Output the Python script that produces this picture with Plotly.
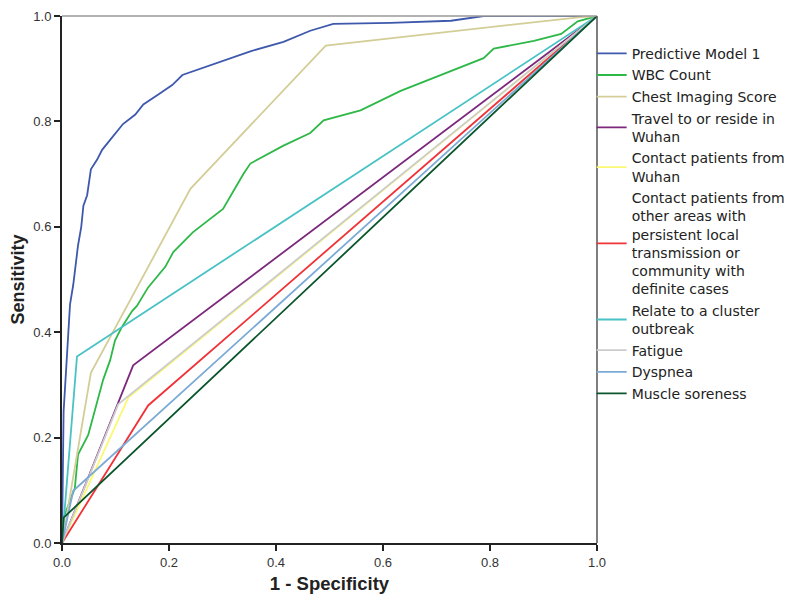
import plotly.graph_objects as go

# ROC curves: (1 - specificity, sensitivity)
model_fpr = [0, 0.001, 0.003, 0.006, 0.009, 0.011, 0.015, 0.021, 0.026, 0.030, 0.036, 0.040,
             0.047, 0.049, 0.054, 0.066, 0.075, 0.090, 0.114, 0.137, 0.152, 0.180, 0.206,
             0.225, 0.262, 0.300, 0.352, 0.414, 0.464, 0.507, 0.614, 0.727, 0.788, 1.0]
model_tpr = [0, 0.10, 0.25, 0.30, 0.36, 0.397, 0.453, 0.49, 0.53, 0.565, 0.60, 0.64,
             0.66, 0.672, 0.709, 0.728, 0.746, 0.765, 0.795, 0.813, 0.832, 0.851, 0.869,
             0.888, 0.901, 0.915, 0.933, 0.951, 0.972, 0.985, 0.987, 0.991, 1.0, 1.0]

wbc_fpr = [0, 0.003, 0.024, 0.030, 0.049, 0.066, 0.077, 0.090, 0.099, 0.112, 0.131, 0.140,
           0.161, 0.193, 0.208, 0.245, 0.277, 0.301, 0.339, 0.352, 0.414, 0.464, 0.489,
           0.558, 0.633, 0.708, 0.788, 0.807, 0.882, 0.933, 0.951, 0.964, 1.0]
wbc_tpr = [0, 0.048, 0.104, 0.168, 0.205, 0.267, 0.31, 0.347, 0.384, 0.41, 0.44, 0.45,
           0.485, 0.524, 0.552, 0.59, 0.616, 0.634, 0.70, 0.72, 0.754, 0.778, 0.802,
           0.821, 0.858, 0.888, 0.92, 0.938, 0.953, 0.966, 0.981, 0.99, 1.0]

chest_fpr = [0, 0.054, 0.240, 0.493, 0.97, 1.0]
chest_tpr = [0, 0.323, 0.672, 0.944, 0.998, 1.0]

travel_fpr = [0, 0.133, 1.0]
travel_tpr = [0, 0.337, 1.0]

contact_wuhan_fpr = [0, 0.124, 1.0]
contact_wuhan_tpr = [0, 0.276, 1.0]

contact_other_fpr = [0, 0.161, 1.0]
contact_other_tpr = [0, 0.261, 1.0]

cluster_fpr = [0, 0.028, 1.0]
cluster_tpr = [0, 0.354, 1.0]

fatigue_fpr = [0, 0.105, 1.0]
fatigue_tpr = [0, 0.263, 1.0]

dyspnea_fpr = [0, 0.021, 1.0]
dyspnea_tpr = [0, 0.099, 1.0]

muscle_fpr = [0, 0.003, 1.0]
muscle_tpr = [0, 0.048, 1.0]

series = [
    ("Predictive Model 1", model_fpr, model_tpr, "#3E58AC"),
    ("WBC Count", wbc_fpr, wbc_tpr, "#2EB848"),
    ("Chest Imaging Score", chest_fpr, chest_tpr, "#D3CE97"),
    ("Travel to or reside in<br>Wuhan", travel_fpr, travel_tpr, "#7C287D"),
    ("Contact patients from<br>Wuhan", contact_wuhan_fpr, contact_wuhan_tpr, "#FBF873"),
    ("Contact patients from<br>other areas with<br>persistent local<br>transmission or<br>"
     "community with<br>definite cases", contact_other_fpr, contact_other_tpr, "#EF3338"),
    ("Relate to a cluster<br>outbreak", cluster_fpr, cluster_tpr, "#48C2C5"),
    ("Fatigue", fatigue_fpr, fatigue_tpr, "#CCCCCC"),
    ("Dyspnea", dyspnea_fpr, dyspnea_tpr, "#7AAAD5"),
    ("Muscle soreness", muscle_fpr, muscle_tpr, "#0A562C"),
]

FONT = "Liberation Sans, Arial, sans-serif"

fig = go.Figure()
for name, xs, ys, color in series:
    fig.add_trace(go.Scatter(
        x=xs, y=ys, mode="lines", name=name, legendgroup=name,
        line=dict(color=color, width=1.8),
    ))

axis_style = dict(
    range=[0, 1], dtick=0.2, tickformat=".1f", automargin=False,
    ticklabeloverflow="allow",
    showline=True, linecolor="#222", linewidth=2,
    ticks="outside", ticklen=6, tickwidth=2, tickcolor="#222",
    showgrid=False, zeroline=False,
    tickfont=dict(family=FONT, size=13, color="#333"),
)

fig.update_layout(
    width=796, height=604,
    margin=dict(l=54, r=207, t=8, b=69),
    plot_bgcolor="white", paper_bgcolor="white",
    xaxis=dict(axis_style, title=dict(text="1 - Specificity", standoff=8,
               font=dict(family=FONT, size=18.5, color="#222", weight="bold"))),
    yaxis=dict(axis_style, title=dict(text="Sensitivity", standoff=22,
               font=dict(family=FONT, size=18, color="#222", weight="bold"))),
    legend=dict(
        x=0.99, xanchor="left", y=0.9586, yanchor="top",
        font=dict(family="DejaVu Sans, sans-serif", size=14, color="#222"),
        bgcolor="rgba(0,0,0,0)", tracegroupgap=0.4,
        itemwidth=30,
    ),
    shapes=[
        dict(type="line", xref="paper", yref="paper", x0=0, x1=1, y0=1, y1=1,
             line=dict(color="#999", width=1.5)),
        dict(type="line", xref="paper", yref="paper", x0=1, x1=1, y0=0, y1=1,
             line=dict(color="#555", width=1.5)),
    ],
)

fig.write_html("out.html")
